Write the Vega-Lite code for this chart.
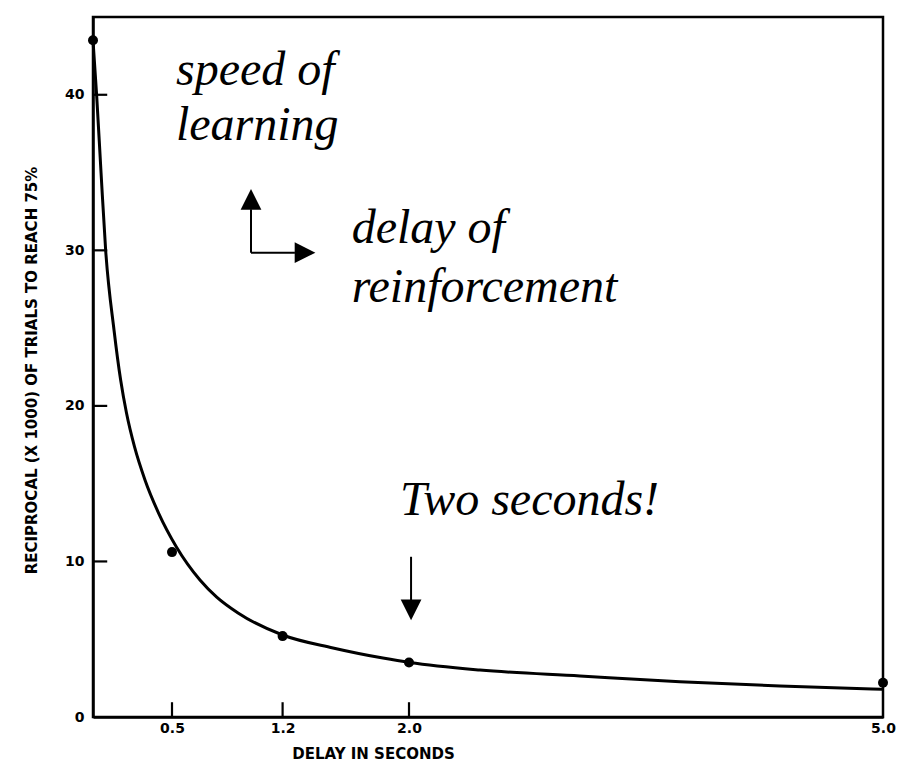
{
  "$schema": "https://vega.github.io/schema/vega-lite/v6.json",
  "width": 790,
  "height": 700,
  "autosize": {"type": "none"},
  "padding": {"left": 93, "top": 17, "right": 23, "bottom": 49},
  "background": "white",
  "config": {
    "view": {"stroke": "black", "strokeWidth": 2.5},
    "axis": {
      "domainColor": "black", "domainWidth": 2.5, "ticks": false,
      "grid": false, "labelColor": "black", "labelFont": "DejaVu Sans", "labelFontWeight": "bold",
      "labelFontSize": 14, "titleColor": "black", "titleFont": "DejaVu Sans", "titleFontWeight": "bold",
      "titleFontSize": 15, "labelOverlap": false, "labelFlush": false, "zindex": 1
    }
  },
  "datasets": {
    "curve": [
      {"d": 0, "v": 43.5}, {"d": 0.023, "v": 39.98}, {"d": 0.051, "v": 34.97}, {"d": 0.08, "v": 30.02},
      {"d": 0.133, "v": 24.88}, {"d": 0.175, "v": 21.66}, {"d": 0.212, "v": 19.54}, {"d": 0.263, "v": 17.36},
      {"d": 0.329, "v": 15.24}, {"d": 0.415, "v": 13.11}, {"d": 0.528, "v": 10.93}, {"d": 0.677, "v": 8.81},
      {"d": 0.783, "v": 7.71}, {"d": 0.918, "v": 6.69}, {"d": 1.2, "v": 5.27}, {"d": 1.519, "v": 4.44},
      {"d": 1.835, "v": 3.79}, {"d": 2.006, "v": 3.5}, {"d": 2.449, "v": 3.02}, {"d": 3.082, "v": 2.64},
      {"d": 3.715, "v": 2.27}, {"d": 4.348, "v": 1.99}, {"d": 4.994, "v": 1.78}
    ],
    "observed": [
      {"d": 0, "v": 43.5}, {"d": 0.5, "v": 10.6}, {"d": 1.2, "v": 5.2}, {"d": 2.0, "v": 3.5}, {"d": 5.0, "v": 2.2}
    ],
    "ticks": [
      {"d": 0.5, "v": 0, "d2": 0.5, "v2": 0.95},
      {"d": 1.2, "v": 0, "d2": 1.2, "v2": 0.95},
      {"d": 2.0, "v": 0, "d2": 2.0, "v2": 0.95},
      {"d": 0, "v": 10, "d2": 0.09, "v2": 10},
      {"d": 0, "v": 20, "d2": 0.09, "v2": 20},
      {"d": 0, "v": 30, "d2": 0.09, "v2": 30},
      {"d": 0, "v": 40, "d2": 0.09, "v2": 40}
    ],
    "notes": [
      {"d": 0.525, "v": 40.63, "text": "speed of"},
      {"d": 0.525, "v": 37.09, "text": "learning"},
      {"d": 1.637, "v": 30.45, "text": "delay of"},
      {"d": 1.637, "v": 26.7, "text": "reinforcement"},
      {"d": 1.943, "v": 12.99, "text": "Two seconds!"}
    ],
    "shafts": [
      {"d": 1.0, "v": 29.85, "d2": 1.0, "v2": 32.64},
      {"d": 1.0, "v": 29.85, "d2": 1.278, "v2": 29.85},
      {"d": 2.013, "v": 10.3, "d2": 2.013, "v2": 7.52}
    ],
    "heads": [
      {"d": 1.0, "v": 33.28, "shape": "M0,-1L-1,1L1,1Z"},
      {"d": 1.342, "v": 29.85, "shape": "M1,0L-1,-1L-1,1Z"},
      {"d": 2.013, "v": 6.88, "shape": "M0,1L-1,-1L1,-1Z"}
    ]
  },
  "layer": [
    {
      "data": {"name": "curve"},
      "mark": {"type": "line", "color": "black", "strokeWidth": 3, "interpolate": "monotone"},
      "encoding": {
        "x": {
          "field": "d", "type": "quantitative",
          "scale": {"domain": [0, 5], "nice": false, "zero": false},
          "axis": {
            "values": [0.5, 1.2, 2.0, 5.0], "format": ".1f", "labelPadding": 4,
            "title": "DELAY IN SECONDS", "titleX": 280, "titleY": 36, "titleAlign": "center", "titleBaseline": "middle"
          }
        },
        "y": {
          "field": "v", "type": "quantitative",
          "scale": {"domain": [0, 45], "nice": false, "zero": true},
          "axis": {
            "values": [0, 10, 20, 30, 40], "labelPadding": 9,
            "title": "RECIPROCAL (X 1000) OF TRIALS TO REACH 75%",
            "titleX": -62, "titleY": 353, "titleAngle": -90, "titleAlign": "center", "titleBaseline": "middle"
          }
        }
      }
    },
    {
      "data": {"name": "ticks"},
      "mark": {"type": "rule", "color": "black", "strokeWidth": 2.2},
      "encoding": {
        "x": {"field": "d", "type": "quantitative", "scale": {"domain": [0, 5], "nice": false, "zero": false}},
        "y": {"field": "v", "type": "quantitative", "scale": {"domain": [0, 45], "nice": false, "zero": true}},
        "x2": {"field": "d2"},
        "y2": {"field": "v2"}
      }
    },
    {
      "data": {"name": "observed"},
      "mark": {"type": "point", "filled": true, "color": "black", "size": 100, "opacity": 1},
      "encoding": {
        "x": {"field": "d", "type": "quantitative", "scale": {"domain": [0, 5], "nice": false, "zero": false}},
        "y": {"field": "v", "type": "quantitative", "scale": {"domain": [0, 45], "nice": false, "zero": true}}
      }
    },
    {
      "data": {"name": "notes"},
      "mark": {"type": "text", "align": "left", "baseline": "alphabetic", "font": "Liberation Serif", "fontStyle": "italic", "fontSize": 48, "color": "black"},
      "encoding": {
        "x": {"field": "d", "type": "quantitative", "scale": {"domain": [0, 5], "nice": false, "zero": false}},
        "y": {"field": "v", "type": "quantitative", "scale": {"domain": [0, 45], "nice": false, "zero": true}},
        "text": {"field": "text"}
      }
    },
    {
      "data": {"name": "shafts"},
      "mark": {"type": "rule", "color": "black", "strokeWidth": 2},
      "encoding": {
        "x": {"field": "d", "type": "quantitative", "scale": {"domain": [0, 5], "nice": false, "zero": false}},
        "y": {"field": "v", "type": "quantitative", "scale": {"domain": [0, 45], "nice": false, "zero": true}},
        "x2": {"field": "d2"},
        "y2": {"field": "v2"}
      }
    },
    {
      "data": {"name": "heads"},
      "mark": {"type": "point", "filled": true, "color": "black", "size": 430, "opacity": 1},
      "encoding": {
        "x": {"field": "d", "type": "quantitative", "scale": {"domain": [0, 5], "nice": false, "zero": false}},
        "y": {"field": "v", "type": "quantitative", "scale": {"domain": [0, 45], "nice": false, "zero": true}},
        "shape": {"field": "shape", "type": "nominal", "scale": null}
      }
    }
  ]
}
